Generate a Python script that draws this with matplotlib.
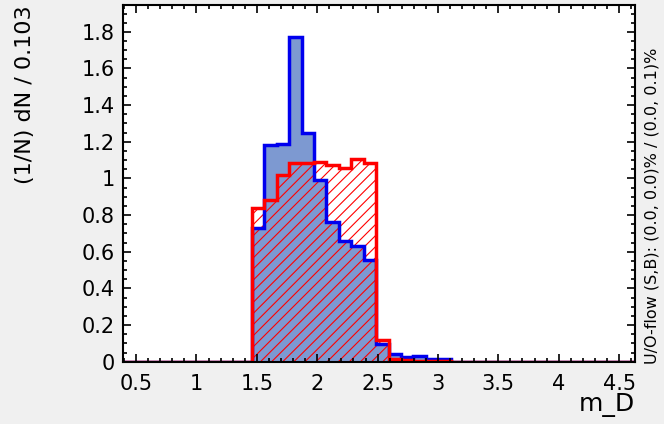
import numpy as np
import matplotlib.pyplot as plt
from matplotlib.ticker import MultipleLocator

# binned distributions (normalised), first filled bin starts at first_edge
bin_width = 0.103
first_edge = 1.458
signal = [0.73, 1.18, 1.19, 1.77, 1.25, 0.99, 0.76, 0.66, 0.63, 0.555,
          0.097, 0.04, 0.025, 0.03, 0.015, 0.012]
background = [0.837, 0.88, 1.02, 1.084, 1.086, 1.088, 1.073, 1.055, 1.104, 1.082,
              0.12, 0.015, 0.008, 0.006, 0.004, 0.002]

x_ticks = [0.5, 1, 1.5, 2, 2.5, 3, 3.5, 4, 4.5]
y_ticks = [0, 0.2, 0.4, 0.6, 0.8, 1, 1.2, 1.4, 1.6, 1.8]
x_title = "m_D"
y_title = "(1/N) dN / 0.103"
overflow_text = "U/O-flow (S,B): (0.0, 0.0)% / (0.0, 0.1)%"

# empty bins either side so the outline runs along the whole axis
n_left, n_right = 11, 15
sig = np.concatenate([np.zeros(n_left), signal, np.zeros(n_right)])
bkg = np.concatenate([np.zeros(n_left), background, np.zeros(n_right)])
edges = first_edge + bin_width * np.arange(-n_left, len(signal) + n_right + 1)

plt.rcParams['font.family'] = ['DejaVu Sans']
plt.rcParams['hatch.linewidth'] = 0.8

fig = plt.figure(figsize=(6.64, 4.24), dpi=100, facecolor='#f0f0f0')
ax = fig.add_axes([0.185, 0.147, 0.771, 0.841])
ax.set_facecolor('white')

ax.stairs(sig, edges, fill=True, facecolor='#7d99d1', linewidth=0)
ax.stairs(bkg, edges, fill=True, facecolor='none', edgecolor='red', hatch='///', linewidth=0)
ax.stairs(sig, edges, color='#0000ee', linewidth=2.5)
ax.stairs(bkg, edges, color='red', linewidth=2.5)

ax.set_xlim(0.39, 4.63)
ax.set_ylim(0, 1.946)

ax.set_xticks(x_ticks)
ax.set_xticklabels([f'{v:g}' for v in x_ticks])
ax.set_yticks(y_ticks)
ax.set_yticklabels([f'{v:g}' for v in y_ticks])
ax.xaxis.set_minor_locator(MultipleLocator(0.1))
ax.yaxis.set_minor_locator(MultipleLocator(0.05))
ax.tick_params(which='both', direction='in', top=True, right=True, width=1.2, labelsize=15)
ax.tick_params(which='major', length=6, pad=6)
ax.tick_params(axis='x', which='major', pad=9)
ax.tick_params(which='minor', length=3)
for s in ax.spines.values():
    s.set_linewidth(1.5)

fig.text(25 / 664, 1 - 5 / 424, y_title, rotation=90, ha='center', va='top', fontsize=16)
fig.text(635 / 664, 1 - 405 / 424, x_title, ha='right', va='center', fontsize=18)
fig.text(652 / 664, 1 - 364 / 424, overflow_text, rotation=90, ha='center', va='bottom', fontsize=11.5)

fig.savefig('out.png', dpi=100, facecolor=fig.get_facecolor())
